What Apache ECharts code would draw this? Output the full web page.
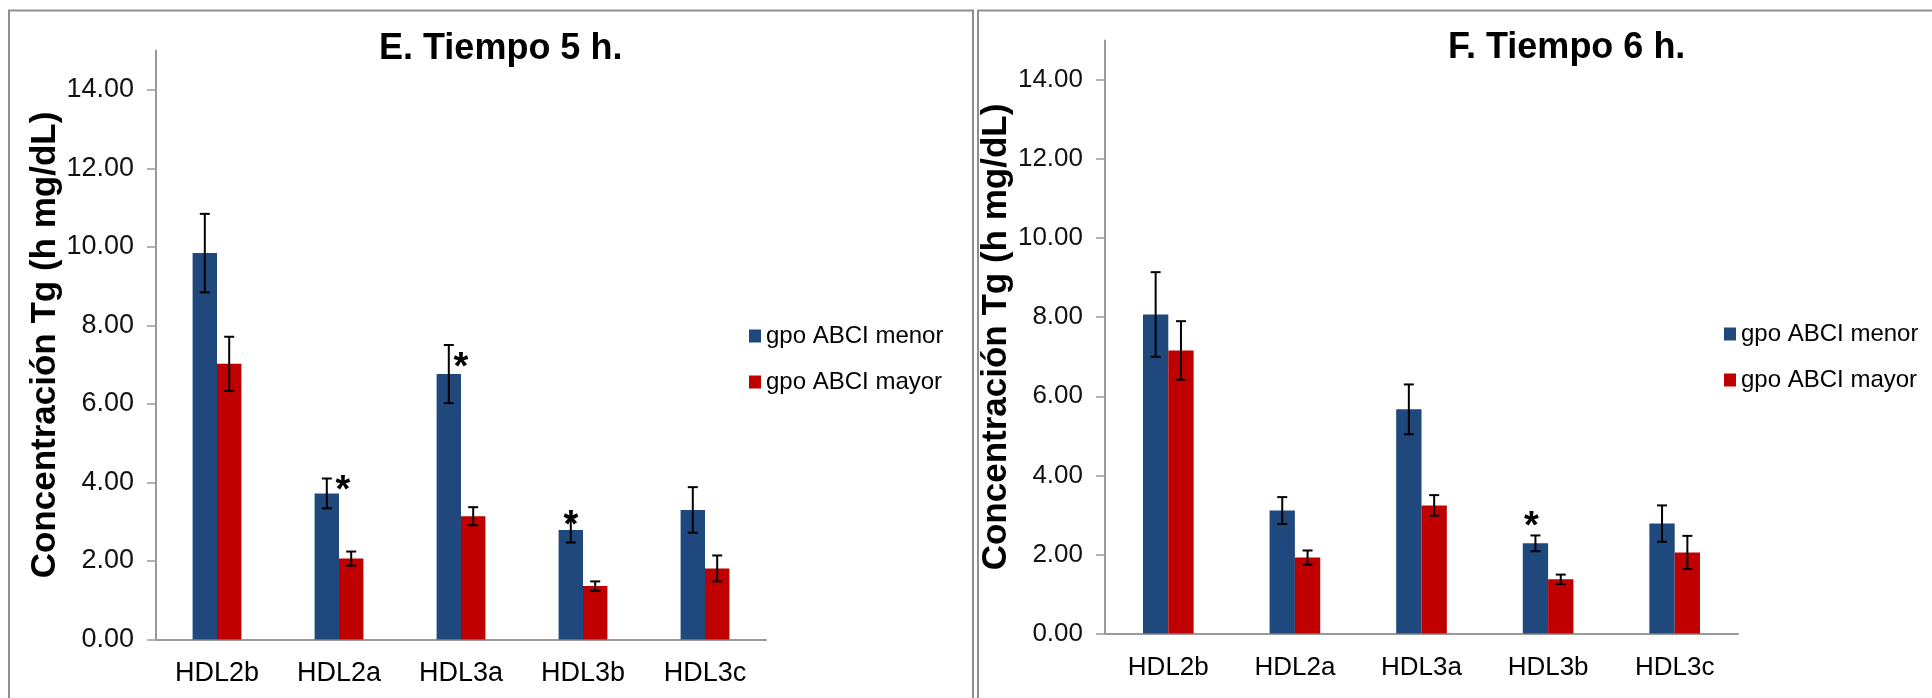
<!DOCTYPE html>
<html>
<head>
<meta charset="utf-8">
<script src="https://cdn.jsdelivr.net/npm/echarts@6/dist/echarts.min.js"></script>
<style>
html,body{margin:0;padding:0;background:#fff;}
#chart{width:1932px;height:698px;}
</style>
</head>
<body>
<div id="chart"></div>
<script>
// ---------- DATA ----------
const categories = ['HDL2b', 'HDL2a', 'HDL3a', 'HDL3b', 'HDL3c'];
const seriesNames = ['gpo ABCI menor', 'gpo ABCI mayor'];
const yTicks = [0, 2, 4, 6, 8, 10, 12, 14];
const titleE = 'E. Tiempo 5 h.';
const titleF = 'F. Tiempo 6 h.';
const yName = 'Concentración Tg (h mg/dL)';

// Panel E (5 h)
const e5Menor = [9.84, 3.72, 6.76, 2.79, 3.30];
const e5MenorErr = [1.00, 0.38, 0.74, 0.32, 0.58];
const e5Mayor = [7.02, 2.06, 3.14, 1.36, 1.81];
const e5MayorErr = [0.69, 0.18, 0.23, 0.12, 0.33];
const e5Sig = ['HDL2a', 'HDL3a', 'HDL3b'];   // '*' on gpo ABCI menor

// Panel F (6 h)
const f6Menor = [8.07, 3.11, 5.67, 2.28, 2.78];
const f6MenorErr = [1.07, 0.34, 0.63, 0.20, 0.46];
const f6Mayor = [7.16, 1.92, 3.24, 1.37, 2.05];
const f6MayorErr = [0.74, 0.18, 0.26, 0.12, 0.42];
const f6Sig = ['HDL3b'];                     // '*' on gpo ABCI menor

// ---------- STYLE ----------
const FONT = '"Liberation Sans", Arial, sans-serif';
const BLUE = '#1F497D', RED = '#C00000', AXIS = '#9a9a9a';
const starOffsetsE = [[16, 4], [12, 15], [0, 0]];
const starOffsetsF = [[-4, -17]];

const chart = echarts.init(document.getElementById('chart'), null, {renderer: 'canvas'});

function errData(means, errs) { return means.map((m, i) => [i, m, errs[i]]); }
function starData(sig, means, errs) {
  return sig.map(c => { const i = categories.indexOf(c); return [i, means[i] + errs[i]]; });
}
function errRender(side) {
  return function (params, api) {
    const i = api.value(0), m = api.value(1), e = api.value(2);
    const bw = api.size([1, 0])[0];
    const x = api.coord([i, m])[0] + side * 0.1 * bw;
    const yT = api.coord([i, m + e])[1];
    const yB = api.coord([i, m - e])[1];
    const st = {stroke: '#000', lineWidth: 2};
    return {type: 'group', children: [
      {type: 'line', shape: {x1: x, y1: yT, x2: x, y2: yB}, style: st},
      {type: 'line', shape: {x1: x - 5, y1: yT, x2: x + 5, y2: yT}, style: st},
      {type: 'line', shape: {x1: x - 5, y1: yB, x2: x + 5, y2: yB}, style: st}
    ]};
  };
}
function starRender(offsets) {
  return function (params, api) {
    const i = api.value(0), v = api.value(1);
    const bw = api.size([1, 0])[0];
    const p = api.coord([i, v]);
    const off = offsets[params.dataIndex];
    return {type: 'text', x: p[0] - 0.1 * bw + off[0], y: p[1] + off[1] + 9,
      style: {text: '*', fill: '#000', font: 'bold 38px ' + FONT, align: 'center', verticalAlign: 'middle'}};
  };
}

function xAxisCfg(g, fs) {
  return {gridIndex: g, type: 'category', data: categories,
    axisTick: {show: false},
    axisLine: {lineStyle: {color: AXIS, width: 2}},
    axisLabel: {fontSize: fs, color: '#000', margin: 21, fontFamily: FONT}};
}
function yAxisCfg(g, fs, gap) {
  return {gridIndex: g, type: 'value', min: 0, max: 15, interval: 1,
    name: yName, nameLocation: 'middle', nameGap: gap,
    nameTextStyle: {fontSize: 35, fontWeight: 'bold', color: '#000', fontFamily: FONT},
    splitLine: {show: false},
    axisLine: {show: true, lineStyle: {color: AXIS, width: 2}},
    axisTick: {show: true, length: 9, customValues: yTicks, lineStyle: {color: AXIS, width: 1.5}},
    axisLabel: {customValues: yTicks, fontSize: fs, color: '#111', margin: 22, fontFamily: FONT,
      formatter: v => v.toFixed(2)}};
}
function legendCfg(left, top) {
  return {left: left, top: top, padding: 0, orient: 'vertical', icon: 'rect', itemWidth: 12, itemHeight: 13,
    itemGap: 22, data: seriesNames,
    textStyle: {fontSize: 24, color: '#000', fontFamily: FONT}};
}
function barCfg(name, color, g, data) {
  return {name: name, type: 'bar', xAxisIndex: g, yAxisIndex: g, data: data,
    barGap: '0%', barCategoryGap: '60%', itemStyle: {color: color}, z: 2};
}

const option = {
  animation: false,
  backgroundColor: '#fff',
  textStyle: {fontFamily: FONT},
  title: [
    {text: titleE, left: 379, top: 31, padding: 0, textStyle: {fontSize: 36, fontWeight: 'bold', color: '#000', fontFamily: FONT}},
    {text: titleF, left: 1448, top: 30, padding: 0, textStyle: {fontSize: 36, fontWeight: 'bold', color: '#000', fontFamily: FONT}}
  ],
  legend: [legendCfg(749, 324), legendCfg(1724, 322)],
  grid: [
    {left: 156, top: 50.5, width: 610, height: 589},
    {left: 1105, top: 40.5, width: 633, height: 593}
  ],
  xAxis: [xAxisCfg(0, 27), xAxisCfg(1, 26)],
  yAxis: [yAxisCfg(0, 27, 90), yAxisCfg(1, 26, 87)],
  graphic: [
    {type: 'rect', silent: true, z: -1, shape: {x: 9, y: 10.5, width: 964, height: 760},
      style: {fill: 'transparent', stroke: '#8f8f8f', lineWidth: 2}},
    {type: 'rect', silent: true, z: -1, shape: {x: 978, y: 10.5, width: 1000, height: 760},
      style: {fill: 'transparent', stroke: '#8f8f8f', lineWidth: 2}}
  ],
  series: [
    barCfg(seriesNames[0], BLUE, 0, e5Menor),
    barCfg(seriesNames[1], RED, 0, e5Mayor),
    barCfg(seriesNames[0], BLUE, 1, f6Menor),
    barCfg(seriesNames[1], RED, 1, f6Mayor),
    {type: 'custom', xAxisIndex: 0, yAxisIndex: 0, z: 10, data: errData(e5Menor, e5MenorErr), renderItem: errRender(-1)},
    {type: 'custom', xAxisIndex: 0, yAxisIndex: 0, z: 10, data: errData(e5Mayor, e5MayorErr), renderItem: errRender(1)},
    {type: 'custom', xAxisIndex: 1, yAxisIndex: 1, z: 10, data: errData(f6Menor, f6MenorErr), renderItem: errRender(-1)},
    {type: 'custom', xAxisIndex: 1, yAxisIndex: 1, z: 10, data: errData(f6Mayor, f6MayorErr), renderItem: errRender(1)},
    {type: 'custom', xAxisIndex: 0, yAxisIndex: 0, z: 11, data: starData(e5Sig, e5Menor, e5MenorErr), renderItem: starRender(starOffsetsE)},
    {type: 'custom', xAxisIndex: 1, yAxisIndex: 1, z: 11, data: starData(f6Sig, f6Menor, f6MenorErr), renderItem: starRender(starOffsetsF)}
  ]
};
chart.setOption(option);
</script>
</body>
</html>
